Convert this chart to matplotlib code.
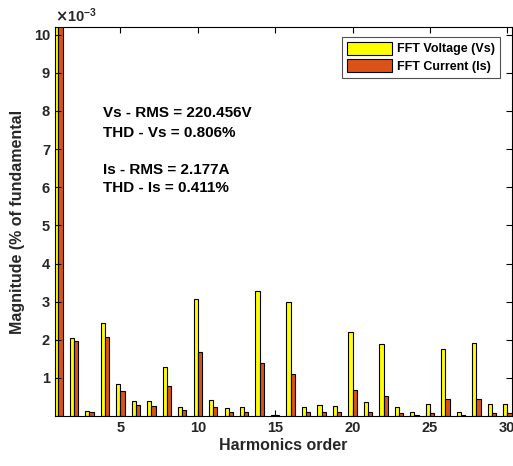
import matplotlib.pyplot as plt
import numpy as np

# Harmonic spectrum, magnitudes in units of 1e-3 (fundamental runs off the top)
harmonics = np.arange(1, 31)
vs_mag = [100, 2.04, 0.14, 2.43, 0.83, 0.40, 0.39, 1.29, 0.25, 3.07,
          0.43, 0.22, 0.24, 3.29, 0.04, 2.98, 0.25, 0.28, 0.27, 2.20,
          0.36, 1.90, 0.24, 0.10, 0.31, 1.77, 0.12, 1.93, 0.33, 0.33]
is_mag = [100, 1.98, 0.12, 2.08, 0.67, 0.30, 0.27, 0.80, 0.16, 1.68,
          0.23, 0.10, 0.11, 1.38, 0.02, 1.10, 0.10, 0.10, 0.10, 0.69,
          0.11, 0.54, 0.07, 0.03, 0.08, 0.45, 0.03, 0.45, 0.07, 0.08]
x_ticks = [5, 10, 15, 20, 25, 30]
y_ticks = list(range(1, 11))

stats_lines = [("Vs - RMS = 220.456V", 0.779), ("THD - Vs = 0.806%", 0.728),
               ("Is - RMS = 2.177A", 0.632), ("THD - Is = 0.411%", 0.586)]

text_col = '#262626'
plt.rcParams['font.family'] = 'Liberation Sans'
plt.rcParams['font.weight'] = 'bold'

fig = plt.figure(figsize=(5.13, 4.66), dpi=100)
ax = fig.add_axes([0.107, 0.107, 0.891, 0.835])

w = 0.27
ax.bar(harmonics - w / 2, vs_mag, width=w, color='#FFFF00', edgecolor='black',
       linewidth=0.8, label='FFT Voltage (Vs)')
ax.bar(harmonics + w / 2, is_mag, width=w, color='#D95319', edgecolor='black',
       linewidth=0.8, label='FFT Current (Is)')

ax.set_xlim(0.77, 30.3)
ax.set_ylim(0, 10.2)
ax.set_xticks(x_ticks)
ax.set_yticks(y_ticks)
ax.tick_params(direction='in', length=4, width=0.8, top=True, right=True,
               labelsize=10.5, colors='black', labelcolor=text_col)
for lbl in ax.get_xticklabels() + ax.get_yticklabels():
    lbl.set_fontweight('bold')
for sp in ax.spines.values():
    sp.set_linewidth(0.8)

ax.set_xlabel('Harmonics order', fontsize=11.5, fontweight='bold', color=text_col, labelpad=2)
ax.set_ylabel('Magnitude (% of fundamental', fontsize=11.5, fontweight='bold', color=text_col, labelpad=6)
ax.text(0.0, 1.005, r'$\times\mathregular{10^{-3}}$', transform=ax.transAxes,
        fontsize=10.5, color=text_col, ha='left', va='bottom')

for txt, yy in stats_lines:
    ax.text(0.105, yy, txt, transform=ax.transAxes, fontsize=11,
            fontweight='bold', color='black', va='center')

leg = ax.legend(loc='upper right', bbox_to_anchor=(0.974, 0.975), fontsize=9,
                frameon=True, fancybox=False, edgecolor='#262626',
                handlelength=3.6, handleheight=1.2, handletextpad=0.4,
                borderpad=0.4, labelspacing=0.3, borderaxespad=0)
leg.get_frame().set_linewidth(0.8)
for t in leg.get_texts():
    t.set_fontweight('bold')

fig.savefig('out.png', dpi=100)
